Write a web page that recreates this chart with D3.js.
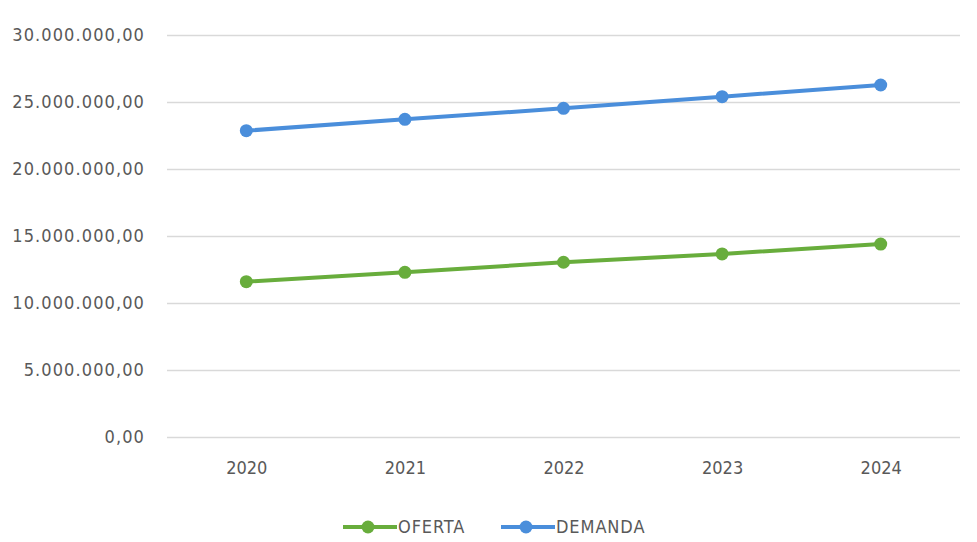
<!DOCTYPE html>
<meta charset="utf-8">
<style>
  body { margin: 0; background: #fff; }
  svg text { font-family: "DejaVu Sans Condensed", "Liberation Sans", sans-serif; fill: #595959; }
</style>
<svg width="977" height="542"></svg>
<script src="https://cdn.jsdelivr.net/npm/d3@7"></script>
<script>
  // data
  var years = ["2020", "2021", "2022", "2023", "2024"];
  var oferta = [11590000, 12290000, 13040000, 13660000, 14400000];
  var demanda = [22860000, 23710000, 24530000, 25400000, 26270000];
  var yTicks = [0, 5000000, 10000000, 15000000, 20000000, 25000000, 30000000];

  var series = [
    {name: "OFERTA", values: oferta, color: "#68ad3c"},
    {name: "DEMANDA", values: demanda, color: "#4a8edb"}
  ];

  var svg = d3.select("svg"),
      margin = {top: 35, right: 17, bottom: 105, left: 167},
      width = +svg.attr("width") - margin.left - margin.right,
      height = +svg.attr("height") - margin.top - margin.bottom,
      g = svg.append("g").attr("transform", "translate(" + margin.left + "," + margin.top + ")");

  var x = d3.scalePoint().domain(years).range([0, width]).padding(0.5);
  var y = d3.scaleLinear().domain([0, 30000000]).range([height, 0]);

  var fmt = function(v) {
    // 30.000.000,00 style
    var s = d3.format(",.2f")(v);
    return s.replace(/,/g, "#").replace(".", ",").replace(/#/g, ".");
  };

  //Gridlines and y labels
  var yAxis = g.append("g")
      .call(d3.axisLeft(y).tickValues(yTicks).tickSize(-width).tickPadding(22).tickFormat(fmt));
  yAxis.select(".domain").remove();
  yAxis.selectAll(".tick line").attr("stroke", "#d9d9d9").attr("stroke-width", 1.5);
  yAxis.selectAll(".tick text")
      .style("font-size", "18px")
      .style("letter-spacing", "1.1px")
      .style("fill", "#595959");

  //x labels
  var xAxis = g.append("g")
      .attr("transform", "translate(0," + height + ")")
      .call(d3.axisBottom(x).tickSize(0).tickPadding(24));
  xAxis.select(".domain").remove();
  xAxis.selectAll(".tick text").style("font-size", "18px").style("fill", "#595959");

  var line = d3.line()
      .x(function(d, i) { return x(years[i]); })
      .y(function(d) { return y(d); });

  series.forEach(function(s) {
    g.append("path")
      .datum(s.values)
      .attr("fill", "none")
      .attr("stroke", s.color)
      .attr("stroke-width", 4)
      .attr("d", line);

    g.selectAll(null)
      .data(s.values)
      .enter().append("circle")
        .attr("cx", function(d, i) { return x(years[i]); })
        .attr("cy", function(d) { return y(d); })
        .attr("r", 6.5)
        .attr("fill", s.color);
  });

  //Legend
  var legend = svg.append("g").attr("transform", "translate(343,527)");
  var offsets = [0, 158];
  series.forEach(function(s, i) {
    var lg = legend.append("g").attr("transform", "translate(" + offsets[i] + ",0)");
    lg.append("line").attr("x1", 0).attr("x2", 54).attr("y1", 0).attr("y2", 0)
      .attr("stroke", s.color).attr("stroke-width", 4);
    lg.append("circle").attr("cx", 25).attr("cy", 0).attr("r", 6.5).attr("fill", s.color);
    lg.append("text").attr("x", 55).attr("y", 0).attr("dy", "0.36em")
      .style("font-size", "18px").style("letter-spacing", "0.9px").text(s.name);
  });
</script>
